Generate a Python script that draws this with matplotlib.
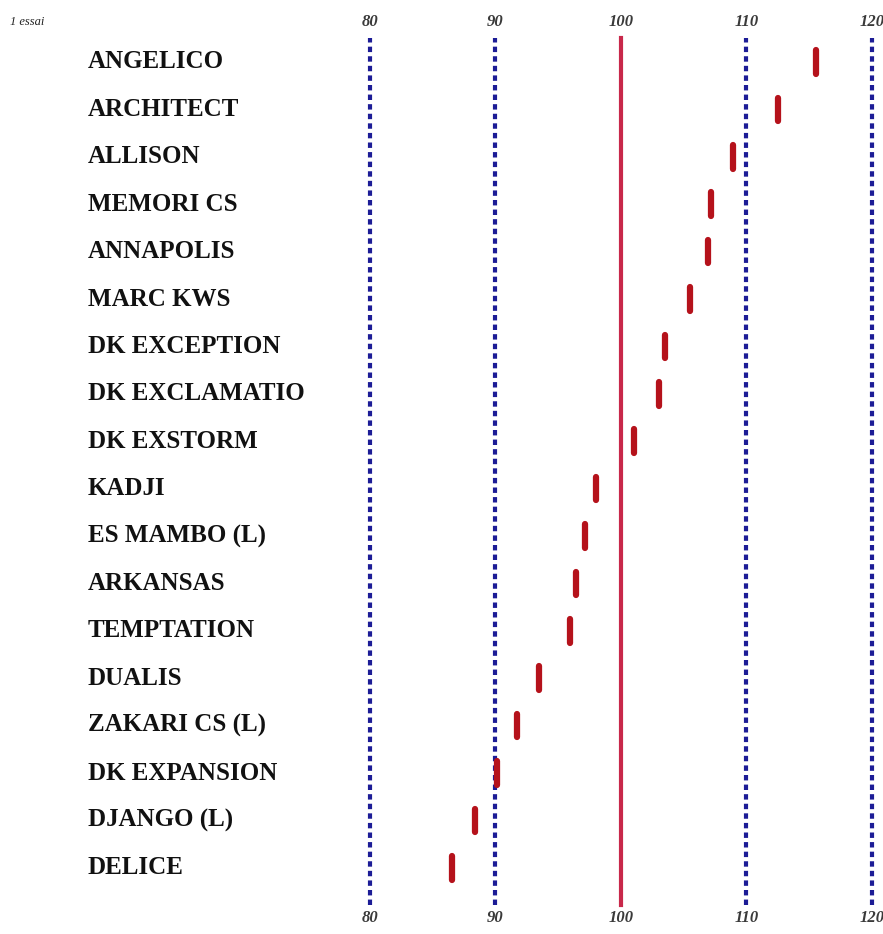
import matplotlib.pyplot as plt

# varietes, de haut en bas
varietes = [
    "ANGELICO", "ARCHITECT", "ALLISON", "MEMORI CS", "ANNAPOLIS",
    "MARC KWS", "DK EXCEPTION", "DK EXCLAMATIO", "DK EXSTORM", "KADJI",
    "ES MAMBO (L)", "ARKANSAS", "TEMPTATION", "DUALIS", "ZAKARI CS (L)",
    "DK EXPANSION", "DJANGO (L)", "DELICE"
]
indices = [
    115.5, 112.5, 108.9, 107.2, 106.9,
    105.5, 103.5, 103.0, 101.0, 98.0,
    97.1, 96.4, 95.9, 93.5, 91.7,
    90.1, 88.4, 86.5
]
reperes = [80, 90, 110, 120]
reference = 100
graduations = [80, 90, 100, 110, 120]

fig = plt.figure(figsize=(8.83, 9.34), dpi=100)
ax = fig.add_axes([0, 0, 1, 1])
ax.axis('off')

px = 12.55  # pixels par point d'indice
ax.set_xlim(100 - 621 / px, 100 + 262 / px)
ax.set_ylim((934 - 62) / 47.4, -62 / 47.4)

ymin = 1 - 905 / 934
ymax = 1 - 38 / 934
for r in reperes:
    ax.axvline(r, ymin=ymin, ymax=ymax, color='#1c1c96', lw=3,
               linestyle=(0, (1.3, 1.0)))
ax.axvline(reference, ymin=ymin, ymax=ymax, color='#c8284a', lw=3)

lignes = list(range(len(varietes)))
lc = ax.vlines(indices, [i - 0.25 for i in lignes], [i + 0.25 for i in lignes],
               color='#b5121b', lw=4.5, zorder=5)
lc.set_capstyle('round')

tr = ax.get_xaxis_transform()
for i, nom in enumerate(varietes):
    ax.text(88 / 883, i, nom, transform=ax.get_yaxis_transform(),
            fontfamily='Liberation Serif', fontweight='bold', fontsize=18,
            va='center', ha='left', color='#111111')

for g in graduations:
    for ypix in (22, 918):
        ax.text(g, 1 - ypix / 934, str(g), transform=tr, ha='center',
                va='center', fontfamily='Liberation Serif', fontstyle='italic',
                fontweight='bold', fontsize=12, color='#3a3a3a')

ax.text(10 / 883, 1 - 22 / 934, "1 essai", transform=ax.transAxes,
        fontfamily='Liberation Serif', fontstyle='italic', fontsize=9,
        va='center', ha='left', color='#222222')

fig.savefig("out.png", dpi=100)
